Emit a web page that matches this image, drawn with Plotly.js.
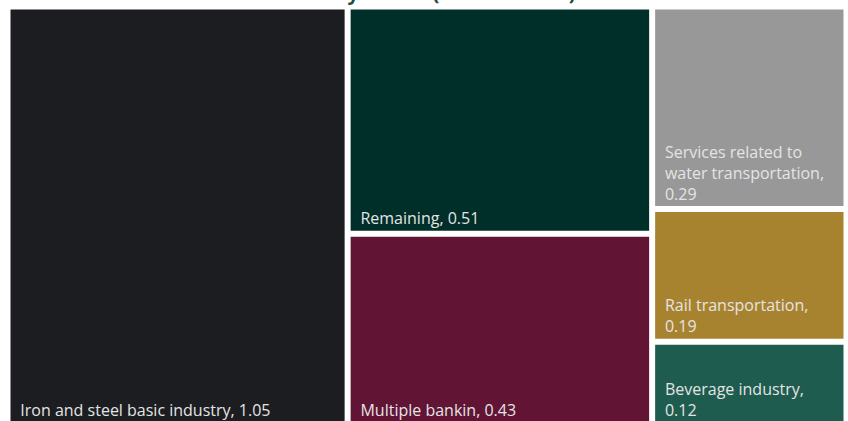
<!DOCTYPE html>
<html>
<head>
<meta charset="utf-8">
<script src="https://cdn.plot.ly/plotly-3.0.1.min.js"></script>
<style>
  html, body { margin: 0; padding: 0; overflow: hidden; background: #ffffff; }
  #chart { width: 848px; height: 426px; }
</style>
</head>
<body>
<div id="chart"></div>
<script>
// ---- data ----
const categories = [
  "Iron and steel basic industry",
  "Remaining",
  "Multiple bankin",
  "Services related to water transportation",
  "Rail transportation",
  "Beverage industry"
];
const values = [1.05, 0.51, 0.43, 0.29, 0.19, 0.12];
const parents = ["", "", "", "", "", ""];
const tileColors = ["#1b1d20", "#002e28", "#611434", "#989898", "#a8832f", "#1e5c4f"];
// maximum characters per line before wrapping each tile's label
const wrapWidths = [60, 40, 40, 22, 22, 22];
const chartTitle = "Share by Sector (in thousands)";

const INDENT = "\u00A0\u00A0";

function wrap(str, maxLen) {
  const words = str.split(" ");
  const lines = [];
  let cur = "";
  words.forEach(w => {
    if (cur.length === 0) cur = w;
    else if ((cur + " " + w).length <= maxLen) cur += " " + w;
    else { lines.push(cur); cur = w; }
  });
  if (cur) lines.push(cur);
  return lines.map(l => INDENT + l).join("<br>");
}

const labelTexts = categories.map((c, i) => wrap(c + ", " + values[i].toFixed(2), wrapWidths[i]));

const trace = {
  type: "treemap",
  labels: categories,
  parents: parents,
  values: values,
  text: labelTexts,
  texttemplate: "%{text}",
  textposition: "bottom left",
  textfont: { family: "Open Sans", size: 16, color: "#e4e4e4" },
  marker: { colors: tileColors, line: { color: "#ffffff", width: 3 }, pad: { t: 0, l: 0, r: 0, b: 0 } },
  pathbar: { visible: false },
  hoverinfo: "none",
  sort: true
};

const layout = {
  width: 848,
  height: 426,
  margin: { l: 9, r: 3, t: 8, b: 2 },
  paper_bgcolor: "#ffffff",
  title: {
    text: "<b>" + chartTitle + "</b>",
    font: { family: "Open Sans", size: 20, color: "#1b4d3e" },
    x: 0.5,
    xanchor: "center",
    yref: "container",
    y: 1,
    yanchor: "bottom"
  },
  showlegend: false
};

Plotly.newPlot("chart", [trace], layout, { displayModeBar: false, staticPlot: true });
</script>
</body>
</html>
